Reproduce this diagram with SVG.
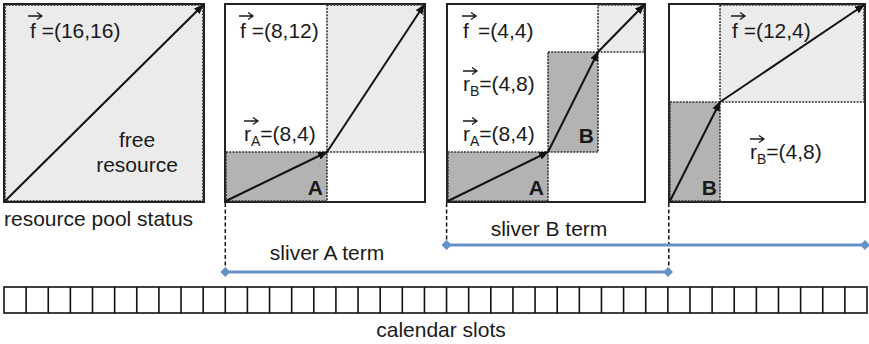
<svg xmlns="http://www.w3.org/2000/svg" width="869" height="344" viewBox="0 0 869 344">
<defs>
<style>
text{font-family:"Liberation Sans",Arial,sans-serif;font-size:21px;fill:#1a1a1a}
.b{font-weight:bold}
.sub{font-size:14px}
.frame{fill:#fff;stroke:#222;stroke-width:2}
.dark{fill:#b3b3b3;stroke:#333;stroke-width:1.6;stroke-dasharray:2 1.2}
.light{fill:#ebebeb;stroke:#333;stroke-width:1.6;stroke-dasharray:2 1.2}
.arr{fill:none;stroke:#111;stroke-width:2;marker-end:url(#ah)}
.vec{fill:none;stroke:#1a1a1a;stroke-width:1.3}
.dash{fill:none;stroke:#111;stroke-width:1.5;stroke-dasharray:4 2.5}
.term{fill:none;stroke:#6592c8;stroke-width:3;marker-start:url(#dm);marker-end:url(#dm)}
.cell{fill:#fff;stroke:#111;stroke-width:1.6}
</style>
<marker id="ah" viewBox="0 0 10 8" refX="9" refY="4" markerWidth="10" markerHeight="8" markerUnits="userSpaceOnUse" orient="auto">
<path d="M0,0 L10,4 L0,8 Z" fill="#111"/>
</marker>
<marker id="dm" viewBox="0 0 10 10" refX="5" refY="5" markerWidth="10" markerHeight="10" markerUnits="userSpaceOnUse" orient="auto">
<path d="M5,0 L10,5 L5,10 L0,5 Z" fill="#6592c8"/>
</marker>
</defs>

<g id="panel1">
<rect class="frame" x="4" y="4" width="200" height="198" style="fill:#ebebeb"/>
<rect x="5.5" y="5.5" width="197" height="195" fill="none" stroke="#555" stroke-width="1.2" stroke-dasharray="2 1.2"/>
<path class="arr" d="M5,201 L203,5"/>
<path class="vec" d="M28,16 H42 M37,12.5 L42,16 L37,19.5"/>
<text x="30" y="38">f =(16,16)</text>
<text x="137" y="147" text-anchor="middle">free</text>
<text x="137" y="172" text-anchor="middle">resource</text>
</g>
<text id="pool-label" x="4" y="226">resource pool status</text>

<g id="panel2">
<rect class="frame" x="225" y="4" width="200" height="198"/>
<rect class="light" x="327" y="5" width="97" height="147"/>
<rect class="dark" x="226" y="152" width="101" height="49"/>
<path class="arr" d="M226,201 L327,152"/>
<path class="arr" d="M327,152 L424,5"/>
<path class="vec" d="M239,16 H253 M248,12.5 L253,16 L248,19.5"/>
<text x="240" y="38">f =(8,12)</text>
<path class="vec" d="M244,121 H258 M253,117.5 L258,121 L253,124.5"/>
<text x="244" y="141">r<tspan class="sub" dy="5">A</tspan><tspan dy="-5">=(8,4)</tspan></text>
<text class="b" x="323" y="195" text-anchor="end">A</text>
</g>

<g id="panel3">
<rect class="frame" x="447" y="4" width="198" height="198"/>
<rect class="light" x="598" y="5" width="46" height="47"/>
<rect class="dark" x="548" y="52" width="50" height="100"/>
<rect class="dark" x="448" y="152" width="100" height="49"/>
<path class="arr" d="M448,201 L548,152"/>
<path class="arr" d="M548,152 L598,52"/>
<path class="arr" d="M598,52 L644,5"/>
<path class="vec" d="M462,16 H476 M471,12.5 L476,16 L471,19.5"/>
<text x="463" y="38">f<tspan x="478">=(4,4)</tspan></text>
<path class="vec" d="M463,71 H477 M472,67.5 L477,71 L472,74.5"/>
<text x="463" y="91">r<tspan class="sub" dy="5">B</tspan><tspan dy="-5">=(4,8)</tspan></text>
<path class="vec" d="M463,121 H477 M472,117.5 L477,121 L472,124.5"/>
<text x="463" y="141">r<tspan class="sub" dy="5">A</tspan><tspan dy="-5">=(8,4)</tspan></text>
<text class="b" x="594" y="143" text-anchor="end">B</text>
<text class="b" x="544" y="195" text-anchor="end">A</text>
</g>

<g id="panel4">
<rect class="frame" x="669" y="4" width="196" height="198"/>
<rect class="light" x="720" y="5" width="144" height="97"/>
<rect class="dark" x="670" y="102" width="50" height="99"/>
<path class="arr" d="M670,201 L720,102"/>
<path class="arr" d="M720,102 L864,5"/>
<path class="vec" d="M731,16 H745 M740,12.5 L745,16 L740,19.5"/>
<text x="732" y="38">f =(12,4)</text>
<path class="vec" d="M750,139 H764 M759,135.5 L764,139 L759,142.5"/>
<text x="750" y="159">r<tspan class="sub" dy="5">B</tspan><tspan dy="-5">=(4,8)</tspan></text>
<text class="b" x="717" y="195" text-anchor="end">B</text>
</g>

<g id="connectors">
<path class="dash" d="M225.3,203 V272"/>
<path class="dash" d="M446.6,203 V245"/>
<path class="dash" d="M668.8,203 V272"/>
<path class="term" d="M225.3,272 H668"/>
<path class="term" d="M446.6,245 H865"/>
</g>

<g id="sliverA">
<text x="327" y="260" text-anchor="middle">sliver A term</text>
</g>
<g id="sliverB">
<text x="549" y="236" text-anchor="middle">sliver B term</text>
</g>

<g id="calendar">
<rect class="cell" x="4" y="287" width="863" height="26"/>
<path fill="none" stroke="#111" stroke-width="1.6" d="M26.13,287V313 M48.26,287V313 M70.38,287V313 M92.51,287V313 M114.64,287V313 M136.77,287V313 M158.9,287V313 M181.03,287V313 M203.15,287V313 M225.28,287V313 M247.41,287V313 M269.54,287V313 M291.67,287V313 M313.79,287V313 M335.92,287V313 M358.05,287V313 M380.18,287V313 M402.31,287V313 M424.44,287V313 M446.56,287V313 M468.69,287V313 M490.82,287V313 M512.95,287V313 M535.08,287V313 M557.21,287V313 M579.33,287V313 M601.46,287V313 M623.59,287V313 M645.72,287V313 M667.85,287V313 M689.97,287V313 M712.1,287V313 M734.23,287V313 M756.36,287V313 M778.49,287V313 M800.62,287V313 M822.74,287V313 M844.87,287V313"/>
<text x="441" y="337" text-anchor="middle">calendar slots</text>
</g>
</svg>
